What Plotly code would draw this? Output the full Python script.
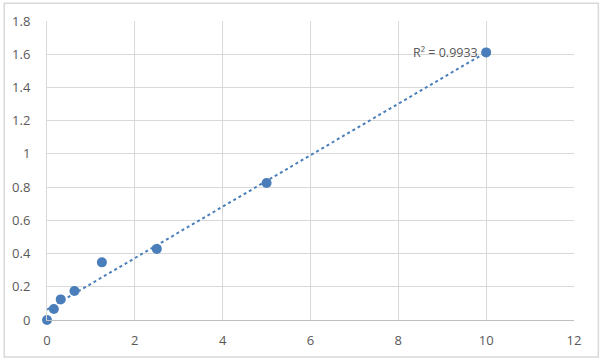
import numpy as np
import plotly.graph_objects as go

x_vals = [0, 0.156, 0.3125, 0.625, 1.25, 2.5, 5, 10]
y_vals = [0.0, 0.066, 0.124, 0.175, 0.347, 0.428, 0.825, 1.611]
x_ticks = [0, 2, 4, 6, 8, 10, 12]
y_ticks = [0, 0.2, 0.4, 0.6, 0.8, 1, 1.2, 1.4, 1.6, 1.8]
r2_label = "R² = 0.9933"

W, H = 600, 361
ml, mr, mt, mb = 44, 26, 19, 39
pw, ph = W - ml - mr, H - mt - mb

slope, intercept = np.polyfit(x_vals, y_vals, 1)
tx = [0, max(x_vals)]
ty = [intercept + slope * v for v in tx]

color = "#4a7ebb"
fig = go.Figure()
fig.add_trace(go.Scatter(x=tx, y=ty, mode="lines",
                         line=dict(color=color, width=2, dash="dot"),
                         hoverinfo="skip", showlegend=False))
fig.add_trace(go.Scatter(x=x_vals, y=y_vals, mode="markers", cliponaxis=False,
                         marker=dict(color=color, size=10),
                         showlegend=False))
fig.add_annotation(x=max(x_vals), y=y_vals[-1], text=r2_label, showarrow=False,
                   xanchor="right", yanchor="middle", xshift=-6,
                   font=dict(family="Open Sans, Liberation Sans", size=12.5, color="#595959"))

fig.add_shape(type="rect", xref="paper", yref="paper",
              x0=(1 - ml) / pw, x1=(W - 1.5 - ml) / pw,
              y0=(H - mb - (H - 1.5)) / ph, y1=(H - mb - 1) / ph,
              line=dict(color="#d9d9d9", width=1.5), layer="below")

axis_font = dict(family="Open Sans, Liberation Sans", size=13, color="#595959")
fig.update_layout(
    width=W, height=H,
    margin=dict(l=ml, r=mr, t=mt, b=mb),
    paper_bgcolor="white", plot_bgcolor="white",
    xaxis=dict(range=[0, 12], tickvals=x_ticks, showgrid=True, gridcolor="#d9d9d9",
               gridwidth=1, zeroline=False, showline=True, linecolor="#bfbfbf",
               linewidth=1, ticks="", tickfont=axis_font, ticklabelstandoff=8),
    yaxis=dict(range=[0, 1.8], tickvals=y_ticks, showgrid=True, gridcolor="#d9d9d9",
               gridwidth=1, zeroline=False, showline=True, linecolor="#d9d9d9",
               linewidth=1, ticks="", tickfont=axis_font, ticklabelstandoff=13),
)
fig.write_html("out.html")
